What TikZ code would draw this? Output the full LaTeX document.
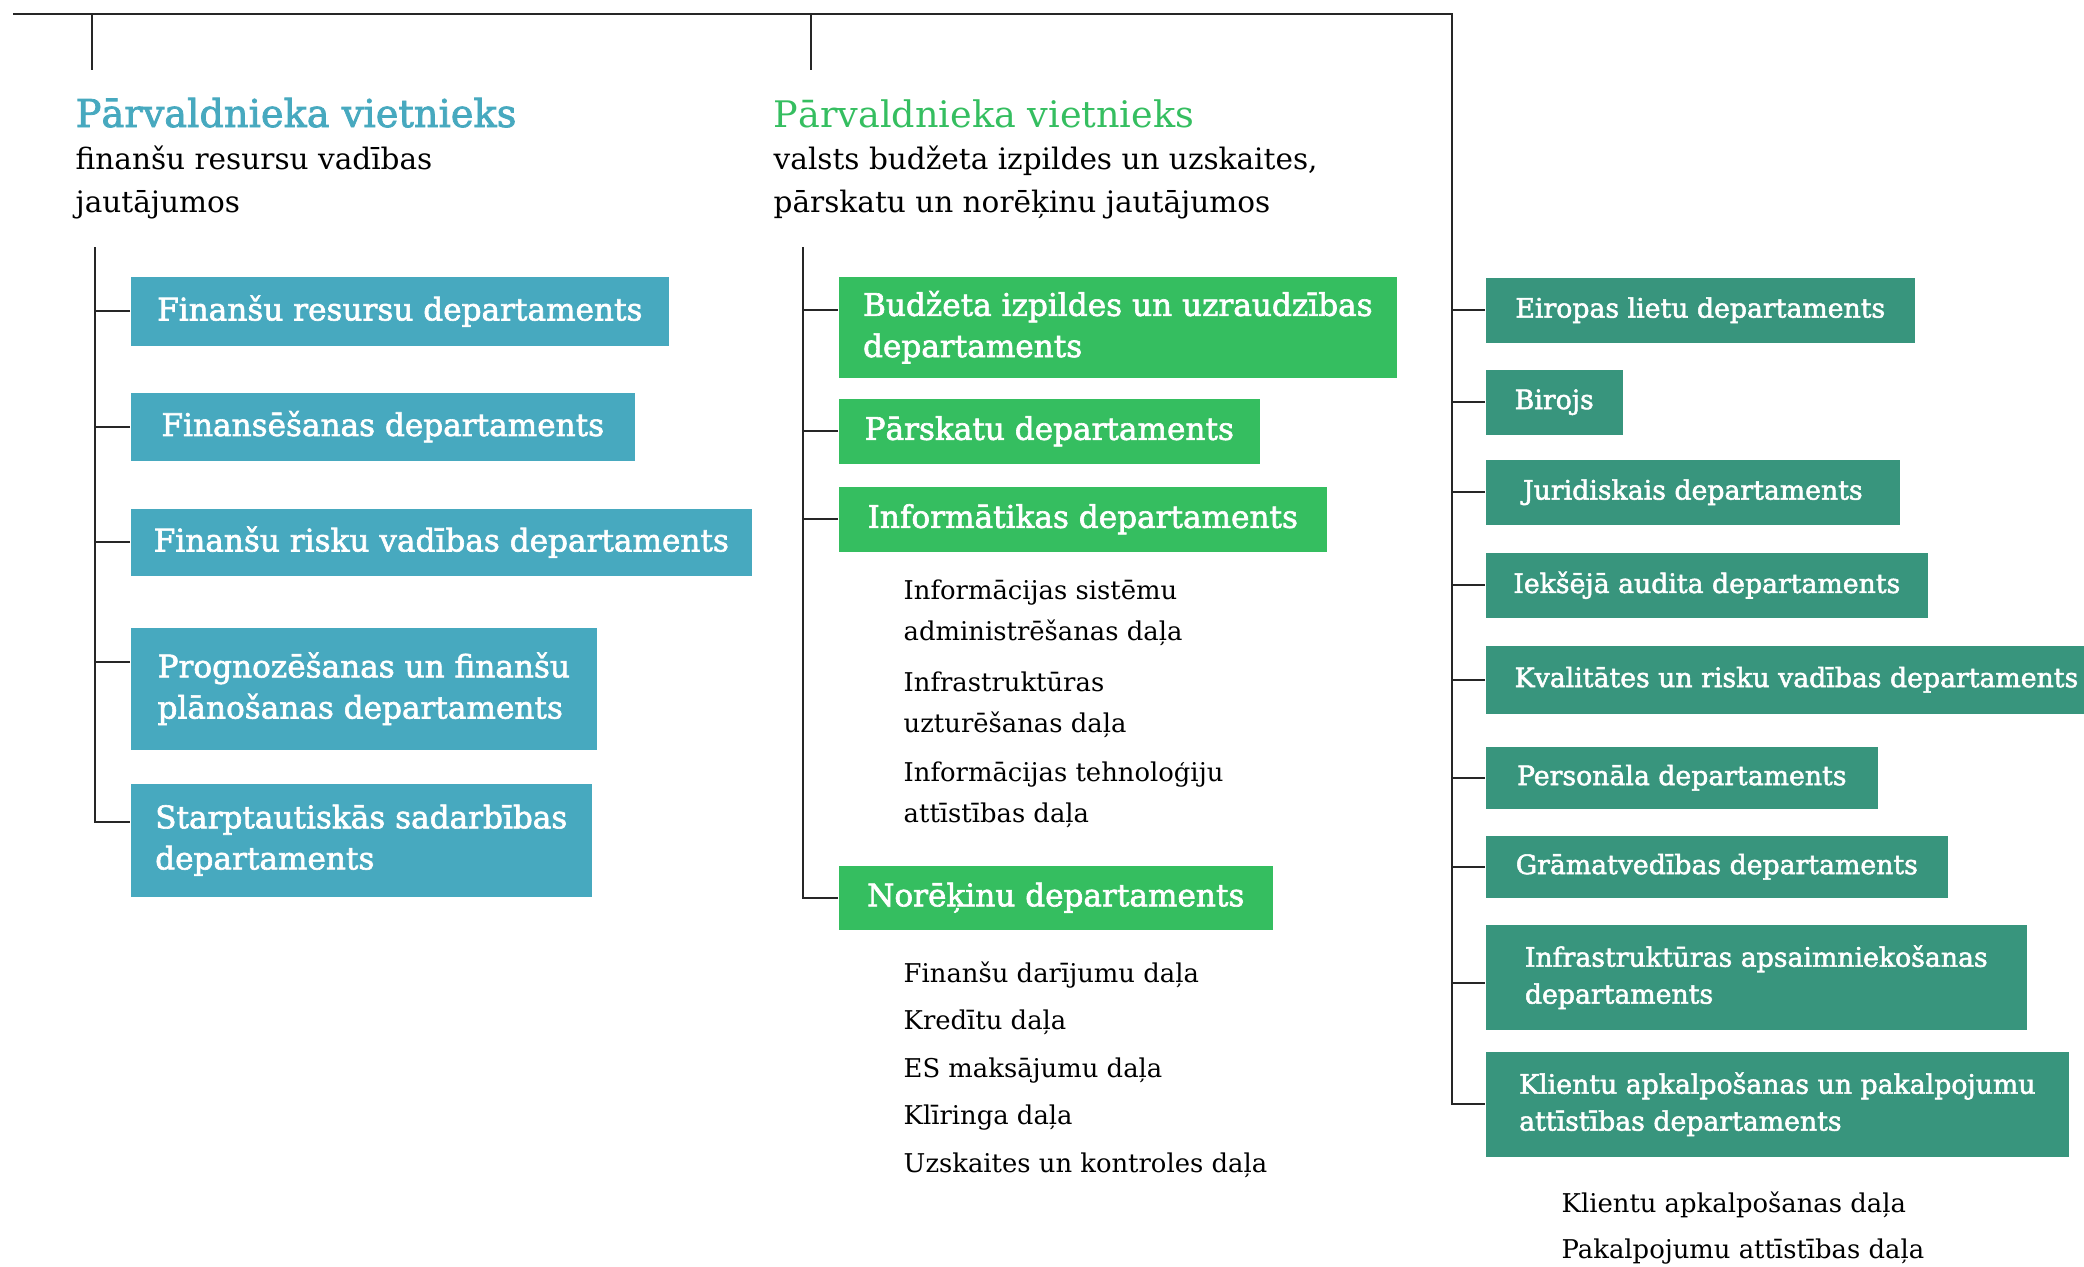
\documentclass[tikz,border=0pt]{standalone}
\usepackage{fontspec}
\setmainfont{DejaVu Serif}
\newfontfamily\semibold{DejaVu Serif}[FakeBold=2]
\usepackage{xcolor}
\definecolor{vtteal}{RGB}{71,169,191}
\definecolor{vtgreen}{RGB}{53,190,96}
\definecolor{vtdark}{RGB}{56,149,125}
\usetikzlibrary{positioning,calc}

\begin{document}
\begin{tikzpicture}[x=0.01cm,y=-0.01cm,
  link/.style={draw=black!85,line width=0.6pt},
  dept/.style={anchor=north west,inner ysep=0pt,align=left,text=white},
  tealbox/.style={dept,fill=vtteal,inner xsep=0.2cm,font=\semibold\fontsize{8.85}{11.7}\selectfont},
  greenbox/.style={dept,fill=vtgreen,inner xsep=0.2cm,font=\semibold\fontsize{8.85}{11.7}\selectfont},
  darkbox/.style={dept,fill=vtdark,inner xsep=0.26cm,font=\semibold\fontsize{7.6}{10.5}\selectfont},
  chief/.style={anchor=base west,inner sep=0pt,font=\fontsize{10.9}{13}\selectfont},
  brief/.style={anchor=base west,inner sep=0pt,align=left,font=\fontsize{8.4}{12}\selectfont},
  unit/.style={anchor=base west,inner sep=0pt,align=left,font=\fontsize{7.35}{11.4}\selectfont}]
  \useasboundingbox (0,0) rectangle (2084,1266);
  \clip (0,0) rectangle (2084,1266);

  % Top bar
  \coordinate (topl) at (13,14);
  \coordinate (topr) at (1452,14);
  \coordinate (ldrop) at (92,70);
  \coordinate (mdrop) at (811,70);

  % Deputy heads (multi-line texts sit on their last baseline)
  \node[chief,text=vtteal] (lchief) at (75,127) {\semibold Pārvaldnieka vietnieks};
  \node[brief] (lbrief) at (75,212) {finanšu resursu vadības\\jautājumos};
  \node[chief,text=vtgreen,font=\fontsize{10.4}{13}\selectfont] (mchief) at (773,127) {Pārvaldnieka vietnieks};
  \node[brief] (mbrief) at (773,212) {valsts budžeta izpildes un uzskaites,\\pārskatu un norēķinu jautājumos};

  % Left departments
  \node[tealbox,minimum width=5.38cm,minimum height=0.69cm] (b1) at (130,276) {Finanšu resursu departaments};
  \node[tealbox,minimum width=5.04cm,minimum height=0.68cm] (b2) at (130,392) {Finansēšanas departaments};
  \node[tealbox,minimum width=6.21cm,minimum height=0.67cm] (b3) at (130,508) {Finanšu risku vadības departaments};
  \node[tealbox,minimum width=4.66cm,minimum height=1.22cm] (b4) at (130,627) {Prognozēšanas un finanšu\\plānošanas departaments};
  \node[tealbox,minimum width=4.61cm,minimum height=1.13cm] (b5) at (130,783) {Starptautiskās sadarbības\\departaments};

  % Middle departments
  \node[greenbox,minimum width=5.58cm,minimum height=1.01cm] (m1) at (838,276) {Budžeta izpildes un uzraudzības\\departaments};
  \node[greenbox,minimum width=4.21cm,minimum height=0.65cm] (m2) at (838,398) {Pārskatu departaments};
  \node[greenbox,minimum width=4.88cm,minimum height=0.65cm] (m3) at (838,486) {Informātikas departaments};
  \node[unit] (iu1) at (903,640) {Informācijas sistēmu\\administrēšanas daļa};
  \node[unit] (iu2) at (903,732) {Infrastruktūras\\uzturēšanas daļa};
  \node[unit] (iu3) at (903,822) {Informācijas tehnoloģiju\\attīstības daļa};
  \node[greenbox,minimum width=4.34cm,minimum height=0.64cm] (m4) at (838,865) {Norēķinu departaments};
  \foreach \name [count=\i] in {Finanšu darījumu daļa,Kredītu daļa,ES maksājumu daļa,Klīringa daļa,Uzskaites un kontroles daļa}
    \node[unit] (nu\i) at (903,{934.5+47.5*\i}) {\name};

  % Right departments
  \node[darkbox,minimum width=4.29cm,minimum height=0.65cm] (r1) at (1485,277) {Eiropas lietu departaments};
  \node[darkbox,minimum width=1.37cm,minimum height=0.65cm] (r2) at (1485,369) {Birojs};
  \node[darkbox,minimum width=4.14cm,minimum height=0.65cm] (r3) at (1485,459) {Juridiskais departaments};
  \node[darkbox,minimum width=4.42cm,minimum height=0.65cm] (r4) at (1485,552) {Iekšējā audita departaments};
  \node[darkbox,minimum height=0.68cm,inner xsep=0.29cm] (r5) at (1485,645) {Kvalitātes un risku vadības departaments};
  \node[darkbox,minimum width=3.92cm,minimum height=0.62cm] (r6) at (1485,746) {Personāla departaments};
  \node[darkbox,minimum width=4.62cm,minimum height=0.62cm] (r7) at (1485,835) {Grāmatvedības departaments};
  \node[darkbox,minimum width=5.41cm,minimum height=1.05cm] (r8) at (1485,924) {Infrastruktūras apsaimniekošanas\\departaments};
  \node[darkbox,minimum width=5.83cm,minimum height=1.05cm] (r9) at (1485,1051) {Klientu apkalpošanas un pakalpojumu\\attīstības departaments};
  \node[unit] (ku1) at (1561,1212) {Klientu apkalpošanas daļa};
  \node[unit] (ku2) at (1561,1258) {Pakalpojumu attīstības daļa};

  % Connectors
  \path (b4.north west) ++(0,35) coordinate (b4c);
  \path (b5.north west) ++(0,39) coordinate (b5c);
  \path (m1.north west) ++(0,34) coordinate (m1c);
  \path (r8.north west) ++(0,59) coordinate (r8c);
  \coordinate (lstem) at (95,247);
  \coordinate (mstem) at (803,247);
  \draw[link] (topl) -- (topr) |- (r9.west);
  \draw[link] (ldrop |- topl) -- (ldrop);
  \draw[link] (mdrop |- topl) -- (mdrop);
  \draw[link] (lstem) |- (b5c);
  \draw[link] (mstem) |- (m4.west);
  \foreach \b in {b1,b2,b3}
    \draw[link] (\b.west) -- (\b.west -| lstem);
  \draw[link] (b4c) -- (b4c -| lstem);
  \foreach \b in {m2,m3}
    \draw[link] (\b.west) -- (\b.west -| mstem);
  \draw[link] (m1c) -- (m1c -| mstem);
  \foreach \b in {r1,r2,r3,r4,r5,r6,r7}
    \draw[link] (\b.west) -- (\b.west -| topr);
  \draw[link] (r8c) -- (r8c -| topr);
\end{tikzpicture}
\end{document}
